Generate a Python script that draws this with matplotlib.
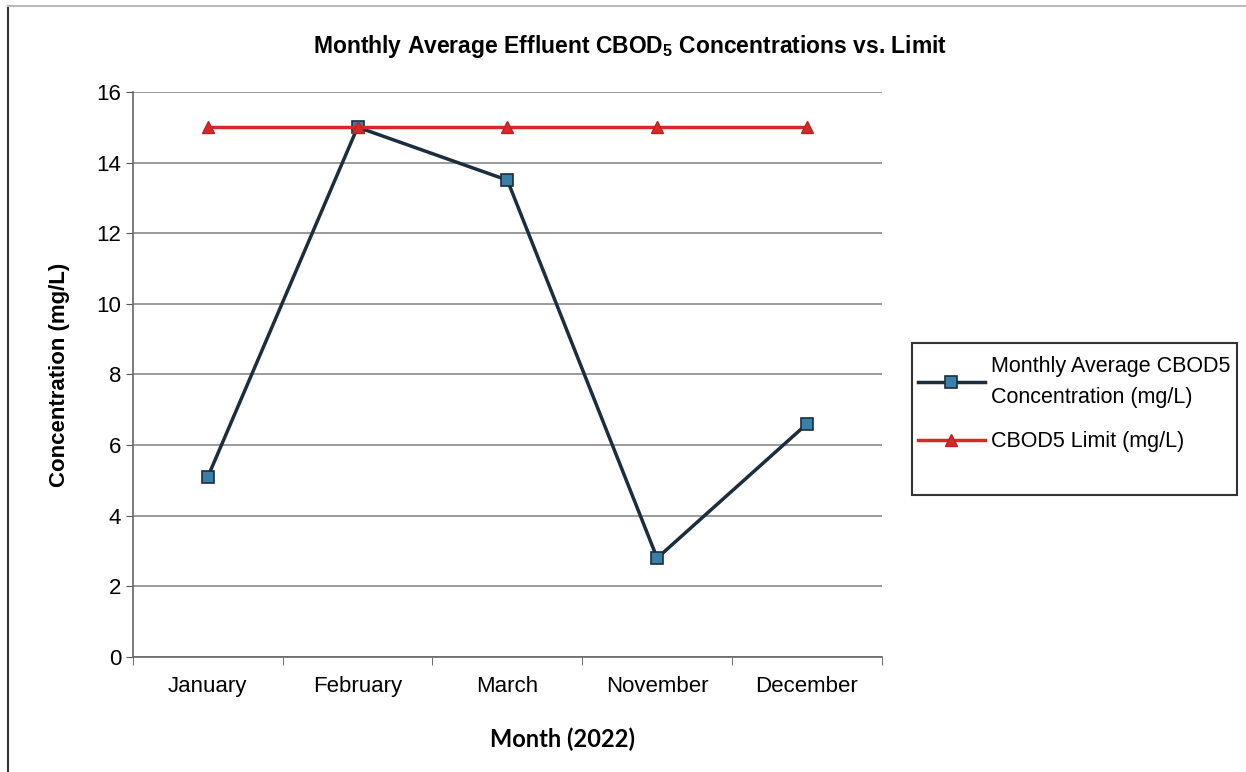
import matplotlib
matplotlib.use('Agg')
import matplotlib.pyplot as plt
from matplotlib.patches import Rectangle
from matplotlib.lines import Line2D

months = ['January', 'February', 'March', 'November', 'December']
cbod5_avg = [5.1, 15.0, 13.5, 2.8, 6.6]
cbod5_limit = [15, 15, 15, 15, 15]

plt.rcParams['font.family'] = ['Liberation Sans', 'DejaVu Sans']
plt.rcParams['mathtext.fontset'] = 'custom'
plt.rcParams['mathtext.bf'] = 'Liberation Sans:bold'
plt.rcParams['mathtext.rm'] = 'Liberation Sans'

W, H = 1246, 772
fig = plt.figure(figsize=(W / 100, H / 100), dpi=100)
ax = fig.add_axes([0.1067, 0.149, 0.601, 0.732])

x = list(range(len(months)))
ax.plot(x, cbod5_avg, color='#1c2e3c', linewidth=2.5, marker='s', markersize=9,
        markerfacecolor='#3a7fa8', markeredgecolor='#1c2e3c', markeredgewidth=1.2,
        label='Monthly Average CBOD5\nConcentration (mg/L)', zorder=3)
ax.plot(x, cbod5_limit, color='#d42a2a', linewidth=2.5, marker='^', markersize=9,
        markerfacecolor='#d42a2a', markeredgecolor='#c02020',
        label='CBOD5 Limit (mg/L)', zorder=4)

ax.set_xlim(-0.5, len(months) - 0.5)
ax.set_ylim(0, 16)
ax.set_yticks(range(0, 17, 2))
ax.set_xticks(x)
ax.set_xticklabels(months, fontsize=16)
ax.set_xticks([i - 0.5 for i in range(len(months) + 1)], minor=True)
ax.tick_params(axis='x', which='major', length=0, pad=14)
ax.tick_params(axis='x', which='minor', length=6, color='#555555')
ax.tick_params(axis='y', labelsize=16, length=5, color='#555555')
ax.yaxis.grid(True, color='#8a8a8a', linewidth=1.2)
ax.set_axisbelow(True)
for s in ['top', 'right']:
    ax.spines[s].set_visible(False)
for s in ['left', 'bottom']:
    ax.spines[s].set_color('#666666')
    ax.spines[s].set_linewidth(1.2)

ax.set_ylabel('Concentration (mg/L)', fontsize=16, fontweight='bold')
ax.yaxis.set_label_coords(-0.084, 0.5)
ax.set_xlabel('Month (2022)', fontsize=17, fontweight='bold', family='Lato')
ax.xaxis.set_label_coords(0.573, -0.124)

fig.text(0.506, 0.94, r'Monthly Average Effluent CBOD$_\mathbf{5}$ Concentrations vs. Limit',
         ha='center', va='center', fontsize=16.5, fontweight='bold')

leg = fig.legend(loc='upper left', bbox_to_anchor=(918 / W, 1 - 356 / H), fontsize=15.5,
                 frameon=False, handlelength=3.1, labelspacing=1.1, handletextpad=0.3,
                 borderpad=0, borderaxespad=0)
for t in leg.get_texts():
    t.set_linespacing(1.6)

# legend box (taller than its content in the original)
fig.patches.append(Rectangle((912 / W, 1 - 495 / H), 325 / W, 152 / H, transform=fig.transFigure,
                             fill=False, edgecolor='#333333', linewidth=1.5))

# page frame
fig.add_artist(Line2D([8 / W, 8 / W], [0, 1 - 6 / H], transform=fig.transFigure,
                      color='#333333', linewidth=1.5))
fig.add_artist(Line2D([8 / W, 1], [1 - 6 / H, 1 - 6 / H], transform=fig.transFigure,
                      color='#bbbbbb', linewidth=1.5))

fig.savefig('out.png', dpi=100)
